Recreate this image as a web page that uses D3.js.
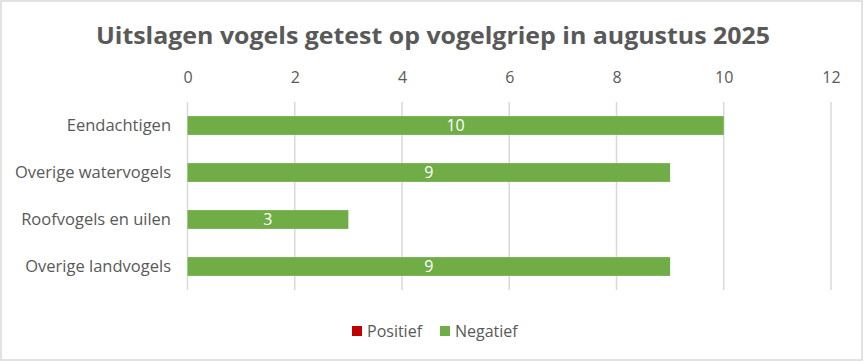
<!DOCTYPE html>
<html><head><meta charset="utf-8">
<script src="https://cdn.jsdelivr.net/npm/d3@7"></script>
<style>body{margin:0;background:#fff}svg{display:block}text{font-family:"Open Sans","Noto Sans",sans-serif}</style>
</head><body><svg id="c" width="864" height="362"></svg>
<script>
const categories = ["Eendachtigen","Overige watervogels","Roofvogels en uilen","Overige landvogels"];
const positief = [0,0,0,0];
const negatief = [10,9,3,9];
const ticks = [0,2,4,6,8,10,12];
const seriesNames = ["Positief","Negatief"];
const colors = ["#C00000","#70AD47"];

const svg = d3.select("#c");
svg.append("rect").attr("x",1).attr("y",1).attr("width",861).attr("height",359).attr("fill","#fff").attr("stroke","#d9d9d9").attr("stroke-width",1.5);

svg.append("text").attr("x",433).attr("y",44).attr("text-anchor","middle")
  .attr("font-size",24).attr("font-weight","bold").attr("fill","#595959")
  .attr("textLength",674).attr("lengthAdjust","spacingAndGlyphs")
  .text("Uitslagen vogels getest op vogelgriep in augustus 2025");

const x = d3.scaleLinear().domain([0,12]).range([187.5,831]);
const y = d3.scaleBand().domain(categories).range([102,290]).paddingInner(0.6).paddingOuter(0.3);

const data = categories.map((c,i)=>({cat:c,Positief:positief[i],Negatief:negatief[i]}));
const stack = d3.stack().keys(seriesNames)(data);

// gridlines
svg.append("g").selectAll("line").data(ticks).join("line")
  .attr("x1",d=>x(d)).attr("x2",d=>x(d)).attr("y1",102).attr("y2",290)
  .attr("stroke","#d9d9d9").attr("stroke-width",1.5);

// top axis labels
const ax = svg.append("g").attr("transform","translate(0,83)").call(d3.axisTop(x).tickValues(ticks).tickSize(0).tickPadding(0));
ax.select(".domain").remove();
ax.selectAll("text").attr("font-size",16).attr("fill","#595959").attr("font-family","Open Sans, Noto Sans, sans-serif");

// category labels
const ay = svg.append("g").attr("transform","translate(171,0)").call(d3.axisLeft(y).tickSize(0).tickPadding(0));
ay.select(".domain").remove();
ay.selectAll("text").attr("font-size",16.5).attr("fill","#595959").attr("font-family","Open Sans, Noto Sans, sans-serif");

// bars
stack.forEach((s,si)=>{
  svg.append("g").selectAll("rect").data(s).join("rect")
    .attr("x",d=>x(d[0])).attr("width",d=>x(d[1])-x(d[0]))
    .attr("y",d=>y(d.data.cat)).attr("height",y.bandwidth())
    .attr("fill",colors[si]);
});
// labels for negatief
svg.append("g").selectAll("text").data(stack[1]).join("text")
  .attr("x",d=>(x(d[0])+x(d[1]))/2).attr("y",d=>y(d.data.cat)+y.bandwidth()/2)
  .attr("dy","0.35em").attr("text-anchor","middle").attr("font-size",16).attr("fill","#fff")
  .text(d=>d[1]-d[0]);

// legend
const lg = svg.append("g");
const lx = [352,440];
seriesNames.forEach((n,i)=>{
  lg.append("rect").attr("x",lx[i]).attr("y",326).attr("width",10).attr("height",10).attr("fill",colors[i]);
  lg.append("text").attr("x",lx[i]+15).attr("y",331).attr("dy","0.35em").attr("font-size",16).attr("fill","#595959").text(n);
});
</script></body></html>
